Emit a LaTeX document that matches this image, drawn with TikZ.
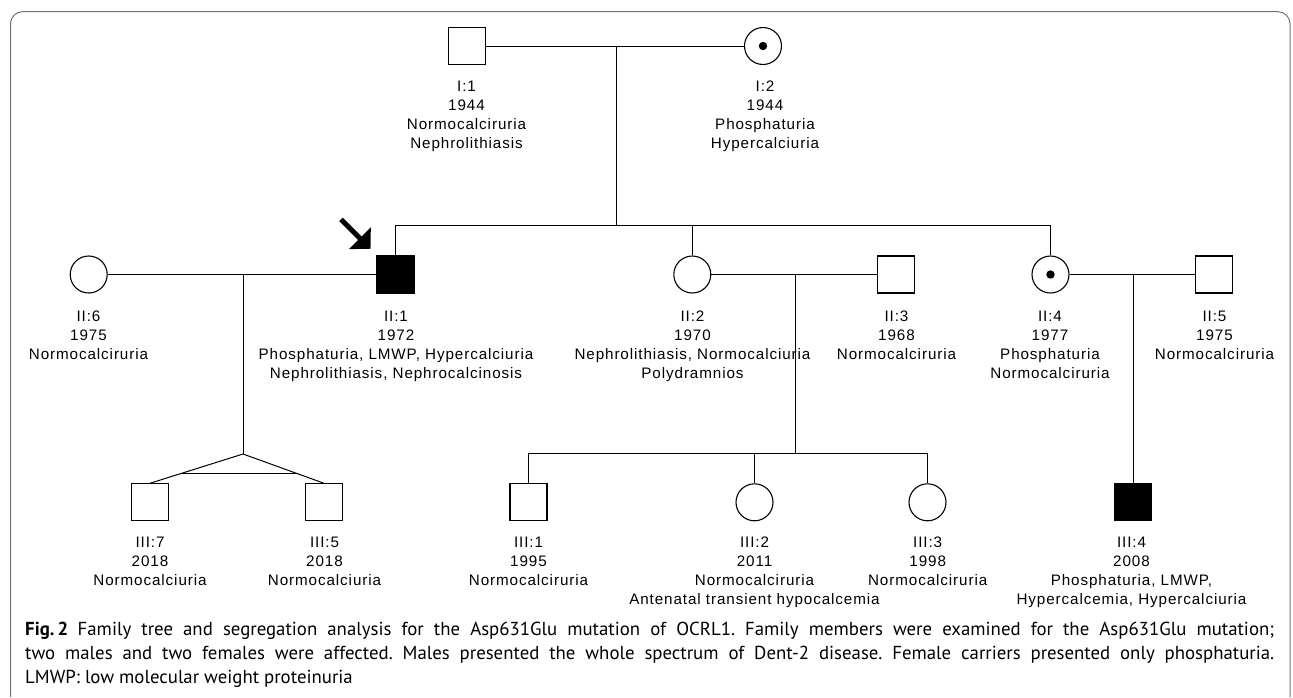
\documentclass[tikz,border=0pt]{standalone}
\usepackage{fontspec}
\usetikzlibrary{calc,arrows.meta}
\newfontfamily\labfam[LetterSpace=6]{Liberation Sans}
\newfontfamily\capfam{PT Sans}
\newcommand\labfont{\labfam\fontsize{15.2pt}{19pt}\selectfont}
\newcommand\capfont{\capfam\fontsize{18.8pt}{24pt}\selectfont\frenchspacing}
\tikzset{
  male/.style={draw, rectangle, minimum width=37pt, minimum height=37pt, inner sep=0pt, line width=1.1pt},
  female/.style={draw, circle, minimum size=37pt, inner sep=0pt, line width=1.1pt},
  affected/.style={fill=black},
  carrier/.style={path picture={\fill (path picture bounding box.center) circle (4.2pt);}},
  lab/.style={anchor=north, align=center, inner sep=0pt, font=\labfont},
  rel/.style={line width=1pt},
  capline/.style={anchor=base west, inner sep=0pt, font=\capfont},
  framecol/.style={draw=black!55, line width=1pt},
}
\begin{document}
\begin{tikzpicture}[x=1pt,y=-1pt]
\useasboundingbox (0,0) rectangle (1293,697);
% frame
\draw[framecol, rounded corners=12pt] (10.5,697) -- (10.5,11.7) -- (1290,11.7) -- (1290,697);

% generation I
\node[male] (I1) at (467,46) {};
\node[female, carrier] (I2) at (763,46) {};
% generation II
\node[female] (II6) at (88.7,274.5) {};
\node[male, affected] (II1) at (395.5,274.5) {};
\node[female] (II2) at (692.3,274.5) {};
\node[male] (II3) at (896.3,274.5) {};
\node[female, carrier] (II4) at (1050.5,274.5) {};
\node[male] (II5) at (1214,274.5) {};
% generation III
\node[male] (III7) at (150,502.3) {};
\node[male] (III5) at (324,502.3) {};
\node[male] (III1) at (528.5,502.3) {};
\node[female] (III2) at (754.5,502.3) {};
\node[female] (III3) at (927.5,502.3) {};
\node[male, affected] (III4) at (1133,502.3) {};

% connectors
\coordinate (m1) at (616,46);
\coordinate (s1) at (616,225);
\draw[rel] (I1) -- (I2);
\draw[rel] (m1) -- (s1);
\draw[rel] (II1.north) -- (II1.north |- s1) -- (II4.north |- s1) -- (II4.north);
\draw[rel] (II2.north) -- (II2.north |- s1);
\draw[rel] (II6) -- (II1);
\draw[rel] (II2) -- (II3);
\draw[rel] (II4) -- (II5);
% twins
\coordinate (m2) at (243,274.5);
\coordinate (apex) at (243,454);
\draw[rel] (m2) -- (apex);
\draw[rel] (III7.north) -- (apex) -- (III5.north);
\draw[rel] ($(apex)!0.66!(III7.north)$) -- ($(apex)!0.66!(III5.north)$);
% II2 x II3 children
\coordinate (m3) at (795.7,274.5);
\coordinate (s3) at (795.7,453.5);
\draw[rel] (m3) -- (s3);
\draw[rel] (III1.north) -- (III1.north |- s3) -- (III3.north |- s3) -- (III3.north);
\draw[rel] (III2.north) -- (III2.north |- s3);
% II4 x II5 child
\coordinate (m4) at (1133,274.5);
\draw[rel] (m4) -- (III4.north);

% proband arrow
\coordinate (pt) at (341,219.3);
\coordinate (ph) at (370.5,248.8);
\draw[line width=5pt, -{Triangle[length=15pt,width=30pt]}] (pt) -- (ph);

% labels
\node[lab] (lI1) at (466.5,81) {I:1\\1944\\Normocalciruria\\Nephrolithiasis};
\node[lab] (lI2) at (765,81) {I:2\\1944\\Phosphaturia\\Hypercalciuria};
\node[lab] (lII6) at (88.5,310.7) {II:6\\1975\\Normocalciruria};
\node[lab] (lII1) at (396,310.7) {II:1\\1972\\Phosphaturia, LMWP, Hypercalciuria\\Nephrolithiasis, Nephrocalcinosis};
\node[lab] (lII2) at (692.5,310.7) {II:2\\1970\\Nephrolithiasis, Normocalciuria\\Polydramnios};
\node[lab] (lII3) at (896.5,310.7) {II:3\\1968\\Normocalciruria};
\node[lab] (lII4) at (1050,310.7) {II:4\\1977\\Phosphaturia\\Normocalciruria};
\node[lab] (lII5) at (1214.5,310.7) {II:5\\1975\\Normocalciruria};
\node[lab] (lIII7) at (150,537) {III:7\\2018\\Normocalciuria};
\node[lab] (lIII5) at (324.5,537) {III:5\\2018\\Normocalciuria};
\node[lab] (lIII1) at (528.5,537) {III:1\\1995\\Normocalciruria};
\node[lab] (lIII2) at (754.5,537) {III:2\\2011\\Normocalciruria\\Antenatal transient hypocalcemia};
\node[lab] (lIII3) at (927.7,537) {III:3\\1998\\Normocalciruria};
\node[lab] (lIII4) at (1131.5,537) {III:4\\2008\\Phosphaturia, LMWP,\\Hypercalcemia, Hypercalciuria};

% caption
\node[capline] (cap1) at (25,635) {\makebox[1249pt][s]{\textbf{Fig.\,2}\hspace{0.5em}Family tree and segregation analysis for the Asp631Glu mutation of OCRL1. Family members were examined for the Asp631Glu mutation;}};
\node[capline] (cap2) at (25,659) {\makebox[1249pt][s]{two males and two females were affected. Males presented the whole spectrum of Dent-2 disease. Female carriers presented only phosphaturia.}};
\node[capline] (cap3) at (25,683) {LMWP: low molecular weight proteinuria};
\end{tikzpicture}
\end{document}
